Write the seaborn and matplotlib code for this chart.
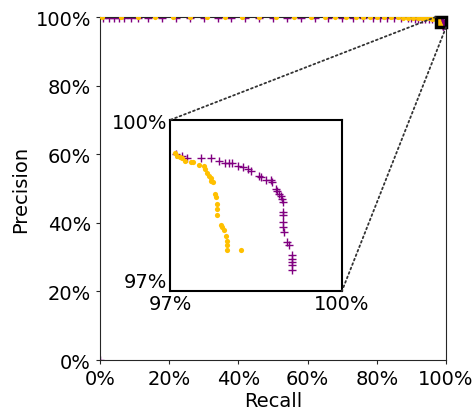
import numpy as np
import pandas as pd
import matplotlib
matplotlib.use("Agg")
import matplotlib.pyplot as plt
from matplotlib.ticker import PercentFormatter
from matplotlib.patches import ConnectionPatch
import seaborn as sns

# ---- data ----
# Model A (yellow circles): high-precision part across recall, then the tail
recall_a = [0.005, 0.06, 0.11, 0.16, 0.21, 0.26, 0.31, 0.36, 0.41, 0.46, 0.51,
            0.56, 0.61, 0.65, 0.68, 0.71, 0.74, 0.76, 0.78, 0.80, 0.82, 0.84,
            0.86, 0.875, 0.89, 0.905, 0.92, 0.93, 0.94, 0.95, 0.96,
            0.97081, 0.97128, 0.97174, 0.97215, 0.97256, 0.97360, 0.97407,
            0.97506, 0.97593, 0.97605, 0.97651, 0.97680, 0.97709, 0.97721,
            0.97750, 0.97785, 0.97797, 0.97814, 0.97814, 0.97826, 0.97884,
            0.97913, 0.97942, 0.97983, 0.97988, 0.97988, 0.97988, 0.98233]
precision_a = [1.0, 1.0, 1.0, 1.0, 1.0, 1.0, 1.0, 1.0, 1.0, 1.0, 1.0,
               1.0, 1.0, 1.0, 1.0, 0.9995, 0.9995, 0.9995, 0.9995, 0.999, 0.999, 0.999,
               0.999, 0.9985, 0.9985, 0.998, 0.998, 0.9975, 0.997, 0.996, 0.995,
               0.99413, 0.99372, 0.99355, 0.99326, 0.99285, 0.99267, 0.99267,
               0.99215, 0.99198, 0.99140, 0.99070, 0.99023, 0.98977, 0.98936,
               0.98907, 0.98703, 0.98645, 0.98529, 0.98442, 0.98326, 0.98163,
               0.98122, 0.98064, 0.97959, 0.97872, 0.97802, 0.97715, 0.97715]

# Model B (purple plus markers)
recall_b = [0.0, 0.01, 0.025, 0.04, 0.055, 0.07, 0.09, 0.11, 0.14, 0.18, 0.22, 0.26,
            0.30, 0.34, 0.38, 0.42, 0.46, 0.50, 0.54, 0.58, 0.62, 0.66, 0.70,
            0.73, 0.76, 0.79, 0.81, 0.83, 0.85, 0.87, 0.89, 0.90, 0.91, 0.92,
            0.93, 0.94, 0.95, 0.96,
            0.97099, 0.97215, 0.97302, 0.97535, 0.97721, 0.97855, 0.97953,
            0.98029, 0.98087, 0.98186, 0.98279, 0.98360, 0.98407, 0.98552,
            0.98581, 0.98669, 0.98756, 0.98785, 0.98843, 0.98872, 0.98901,
            0.98930, 0.98959, 0.98977, 0.98977, 0.98977, 0.98977, 0.98977,
            0.98988, 0.99035, 0.99076, 0.99122, 0.99134, 0.99134, 0.99134,
            0.99134]
precision_b = [0.0, 0.998, 0.998, 0.998, 0.998, 0.998, 0.998, 0.998, 0.998, 0.998,
               0.998, 0.998, 0.998, 0.998, 0.998, 0.998, 0.998, 0.998, 0.998,
               0.998, 0.998, 0.998, 0.998, 0.998, 0.9975, 0.9975, 0.997, 0.997,
               0.997, 0.9965, 0.996, 0.996, 0.9955, 0.995, 0.995, 0.9945, 0.9945,
               0.9942,
               0.99401, 0.99372, 0.99326, 0.99326, 0.99326, 0.99285, 0.99244,
               0.99244, 0.99244, 0.99198, 0.99174, 0.99140, 0.99110, 0.99023,
               0.98994, 0.98948, 0.98948, 0.98907, 0.98791, 0.98762, 0.98703,
               0.98674, 0.98616, 0.98558, 0.98384, 0.98326, 0.98209, 0.98122,
               0.98035, 0.97860, 0.97802, 0.97628, 0.97570, 0.97512, 0.97453,
               0.97366]

colors = {"A": "#FFC000", "B": "#800080"}

df = pd.concat([
    pd.DataFrame({"Recall": recall_a, "Precision": precision_a, "Model": "A"}),
    pd.DataFrame({"Recall": recall_b, "Precision": precision_b, "Model": "B"}),
], ignore_index=True)

sns.set_style("ticks")
plt.rcParams["font.family"] = ["DejaVu Sans"]
plt.rcParams["text.color"] = "black"
plt.rcParams["axes.labelcolor"] = "black"
plt.rcParams["xtick.labelcolor"] = "black"
plt.rcParams["ytick.labelcolor"] = "black"

fig = plt.figure(figsize=(4.77, 4.10), dpi=100)
ax = fig.add_axes([0.2096, 0.1195, 0.7254, 0.8365])

def draw(axis, msize_a, msize_b):
    sns.scatterplot(data=df[df.Model == "A"], x="Recall", y="Precision",
                    color=colors["A"], marker="o", s=msize_a, linewidth=0,
                    ax=axis, legend=False, zorder=3)
    sns.scatterplot(data=df[df.Model == "B"], x="Recall", y="Precision",
                    color=colors["B"], marker="+", s=msize_b, linewidth=1.0,
                    ax=axis, legend=False, zorder=2)

draw(ax, 14, 28)
ax.set_xlim(0, 1)
ax.set_ylim(0, 1)
ax.set_xticks(np.arange(0, 1.01, 0.2))
ax.set_yticks(np.arange(0, 1.01, 0.2))
ax.xaxis.set_major_formatter(PercentFormatter(1.0, decimals=0))
ax.yaxis.set_major_formatter(PercentFormatter(1.0, decimals=0))
ax.tick_params(labelsize=14, length=3)
ax.set_xlabel("Recall", fontsize=14, labelpad=2)
ax.set_ylabel("Precision", fontsize=14, labelpad=4)

# inset
axins = ax.inset_axes([0.2023, 0.2012, 0.497, 0.4985])
draw(axins, 14, 28)
axins.set_xlim(0.97, 1.0)
axins.set_ylim(0.97, 1.0)
axins.set_xticks([0.97, 1.0])
axins.set_yticks([0.97, 1.0])
axins.xaxis.set_major_formatter(PercentFormatter(1.0, decimals=0))
axins.yaxis.set_major_formatter(PercentFormatter(1.0, decimals=0))
axins.tick_params(labelsize=14, length=0, pad=2)
axins.set_xlabel("")
axins.set_ylabel("")
fig.canvas.draw()
axins.get_yticklabels()[0].set_verticalalignment("bottom")
for sp in axins.spines.values():
    sp.set_color("black")
    sp.set_linewidth(1.5)

ax.indicate_inset([0.97, 0.97, 0.03, 0.03], edgecolor="black",
                  linewidth=2.5, alpha=1, facecolor="none", zorder=5)
for (xa, ya), (xb, yb) in [((0.97, 1.0), (0, 1)), ((1.0, 0.97), (1, 0))]:
    con = ConnectionPatch(xyA=(xa, ya), coordsA=ax.transData,
                          xyB=(xb, yb), coordsB=axins.transAxes,
                          linestyle=":", color="#333333", linewidth=1.3)
    fig.add_artist(con)

fig.savefig("out.png", dpi=100)
